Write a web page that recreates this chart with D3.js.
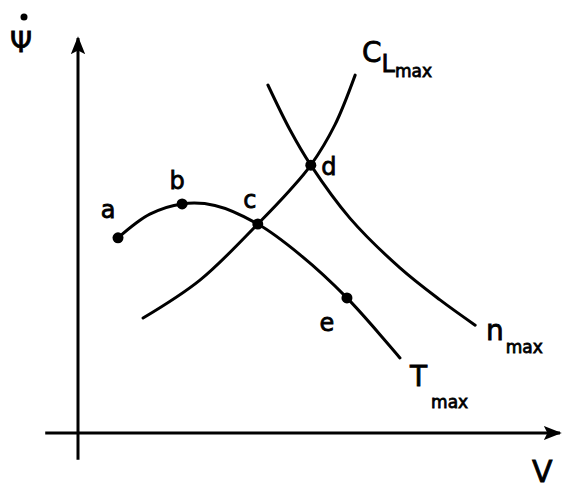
<!DOCTYPE html>
<html>
<head>
<meta charset="utf-8">
<script src="https://cdn.jsdelivr.net/npm/d3@7"></script>
<style>
  body { margin: 0; background: #fff; }
  text { font-family: "DejaVu Sans", sans-serif; fill: #000; stroke: #000; stroke-width: 0.8; }
</style>
</head>
<body>
<svg width="564" height="488"></svg>
<script>
// curves, arbitrary units (V, psi-dot)
var thrustCurve = [[8.3, 49.4], [14.9, 55.4], [21.6, 58.0], [28.4, 57.6], [37.3, 52.9], [46.1, 45.1], [55.8, 34.2], [66.8, 19.0]];
var clmaxCurve = [[13.5, 29.1], [25.3, 38.7], [37.3, 52.9], [44.0, 61.5], [48.3, 67.8], [53.3, 78.0], [57.5, 90.6]];
var nmaxCurve = [[39.4, 88.1], [44.0, 76.7], [48.3, 67.8], [56.4, 54.4], [66.8, 41.8], [75.1, 33.7], [82.4, 27.3]];
var pointNames = ['a', 'b', 'c', 'd', 'e'];
var pointValues = [[8.3, 49.4], [21.6, 58.0], [37.3, 52.9], [48.3, 67.8], [55.8, 34.2]];

var svg = d3.select('svg');
var x = d3.scaleLinear().domain([0, 100]).range([78, 560]);
var y = d3.scaleLinear().domain([0, 100]).range([433, 38]);

var defs = svg.append('defs');
defs.append('marker')
    .attr('id', 'arrow')
    .attr('viewBox', '0 0 10 10')
    .attr('refX', 9).attr('refY', 5)
    .attr('markerWidth', 6).attr('markerHeight', 6)
    .attr('markerUnits', 'strokeWidth')
    .attr('orient', 'auto')
  .append('path')
    .attr('d', 'M0,1 L10,5 L0,9 L2,5 Z')
    .attr('fill', '#000');

// axes
svg.append('line')
    .attr('x1', x(0)).attr('y1', y(-6.8))
    .attr('x2', x(0)).attr('y2', y(100))
    .attr('stroke', '#000').attr('stroke-width', 3)
    .attr('marker-end', 'url(#arrow)');
svg.append('line')
    .attr('x1', x(-6.8)).attr('y1', y(0))
    .attr('x2', x(100)).attr('y2', y(0))
    .attr('stroke', '#000').attr('stroke-width', 3)
    .attr('marker-end', 'url(#arrow)');

var line = d3.line()
    .x(function(d) { return x(d[0]); })
    .y(function(d) { return y(d[1]); })
    .curve(d3.curveCatmullRom);

[thrustCurve, clmaxCurve, nmaxCurve].forEach(function(c) {
  svg.append('path')
      .attr('d', line(c))
      .attr('fill', 'none')
      .attr('stroke', '#000')
      .attr('stroke-width', 3)
      .attr('stroke-linecap', 'round');
});

svg.selectAll('circle.pt')
    .data(pointValues)
  .enter().append('circle')
    .attr('class', 'pt')
    .attr('cx', function(d) { return x(d[0]); })
    .attr('cy', function(d) { return y(d[1]); })
    .attr('r', 5.5);

// point labels (offsets in px)
var labelOffsets = [[-10, -20], [-5, -15], [-8, -16], [18, 10], [-20, 33]];
svg.selectAll('text.pl')
    .data(pointNames)
  .enter().append('text')
    .attr('class', 'pl')
    .attr('x', function(d, i) { return x(pointValues[i][0]) + labelOffsets[i][0]; })
    .attr('y', function(d, i) { return y(pointValues[i][1]) + labelOffsets[i][1]; })
    .attr('text-anchor', 'middle')
    .attr('font-size', 24)
    .text(function(d) { return d; });

// curve labels
var cl = svg.append('text').attr('x', 362).attr('y', 62).attr('font-size', 28);
cl.append('tspan').text('C');
cl.append('tspan').attr('dy', 10).attr('font-size', 24).text('L');
cl.append('tspan').attr('dy', 5).attr('font-size', 17).text('max');

var nl = svg.append('text').attr('x', 486).attr('y', 340).attr('font-size', 28);
nl.append('tspan').text('n');
nl.append('tspan').attr('dx', 2).attr('dy', 13).attr('font-size', 17).text('max');

var tl = svg.append('text').attr('x', 410).attr('y', 386).attr('font-size', 28);
tl.append('tspan').text('T');
tl.append('tspan').attr('dx', 4).attr('dy', 22).attr('font-size', 17).text('max');

// psi-dot and V
svg.append('text').attr('x', 10).attr('y', 52).attr('font-size', 28).text('\u03A8');
svg.append('circle').attr('cx', 24).attr('cy', 17).attr('r', 3.5);
svg.append('text').attr('x', 532).attr('y', 482).attr('font-size', 30).text('V');
</script>
</body>
</html>
